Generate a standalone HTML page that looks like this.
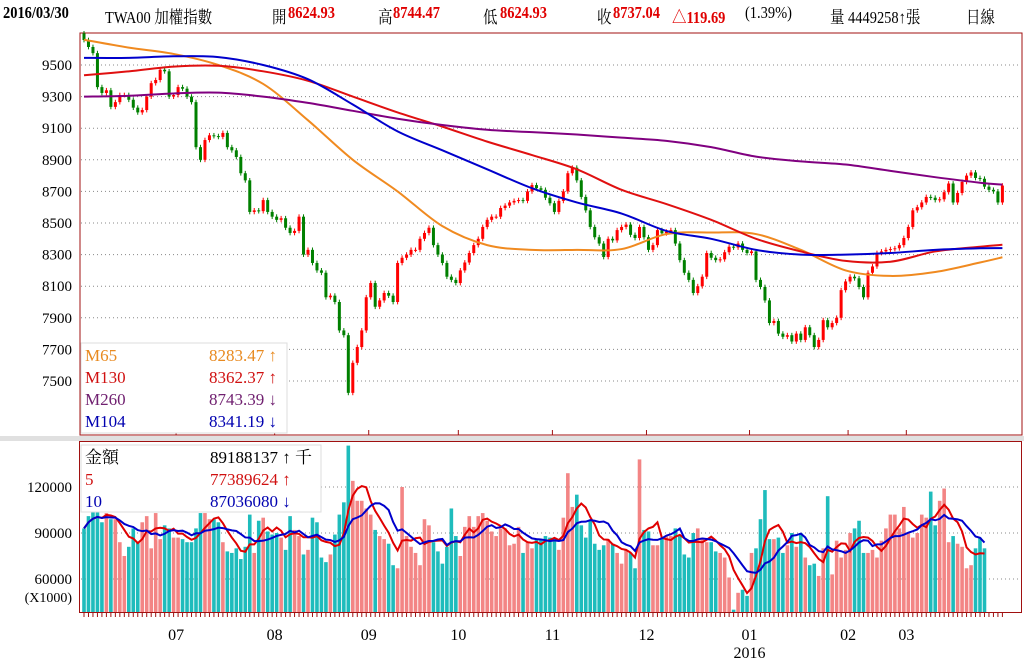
<!DOCTYPE html>
<html><head><meta charset="utf-8">
<style>
body{margin:0;background:#fff;width:1024px;height:662px;overflow:hidden;font-family:"Liberation Serif","Noto Serif CJK SC",serif;}
#hdr span{position:absolute;top:3px;font-size:17px;white-space:nowrap;transform:scaleX(0.85);transform-origin:0 0;}
.r{color:#e00000;font-weight:bold;}
</style></head>
<body>
<div id="hdr">
<span style="left:3px;font-weight:bold">2016/03/30</span>
<span style="left:105px">TWA00 加權指數</span>
<span style="left:272px">開</span>
<span class="r" style="left:288px">8624.93</span>
<span style="left:378px">高</span>
<span class="r" style="left:393px">8744.47</span>
<span style="left:483px">低</span>
<span class="r" style="left:500px">8624.93</span>
<span style="left:597px">收</span>
<span class="r" style="left:613px">8737.04</span>
<span class="r" style="left:672px">△119.69</span>
<span style="left:745px">(1.39%)</span>
<span style="left:830px">量 4449258↑張</span>
<span style="left:966px">日線</span>
</div>
<svg id="c" width="1024" height="662" style="position:absolute;left:0;top:0"></svg>
<script>
const closes=[9658,9614,9575,9360,9323,9340,9235,9265,9310,9310,9280,9230,9200,9215,9300,9385,9405,9470,9460,9300,
9310,9360,9350,9300,9265,8980,8900,9025,9055,9050,9045,9070,8980,8960,8918,8815,8770,8570,8580,8575,
8645,8570,8540,8520,8530,8470,8437,8450,8540,8300,8330,8247,8200,8185,8030,8040,8000,7820,
7790,7425,7615,7715,7820,8030,8120,7970,8010,8057,8040,8000,8247,8280,8300,8330,8330,8400,8437,8470,8360,8300,
8247,8160,8140,8120,8200,8250,8310,8360,8400,8475,8520,8540,8540,8595,8610,8630,8640,8645,8640,8700,
8740,8720,8710,8660,8625,8570,8640,8700,8815,8850,8770,8665,8580,8475,
8410,8370,8285,8400,8390,8455,8475,8490,8425,8405,8475,8410,8330,8360,8455,8435,8445,8455,8370,8265,
8185,8140,8057,8100,8160,8310,8280,8265,8270,8315,8350,8345,8370,8330,8310,8320,8140,8095,8010,7867,
7880,7800,7780,7790,7750,7800,7760,7840,7790,7715,7760,7885,7840,7867,7900,8075,
8130,8160,8150,8095,8030,8185,8225,8310,8320,8330,8335,8340,8360,8405,8475,8580,8600,8630,8665,8660,
8645,8650,8695,8750,8630,8690,8760,8800,8820,8785,8780,8730,8710,8700,8630,8737];
const firstOpen=9700;
const maIdx=[0,10,20,30,40,50,60,70,80,90,100,110,120,130,140,150,160,170,180,190,200,205];
const m65=[9660,9610,9570,9500,9380,9150,8900,8700,8480,8360,8330,8330,8335,8430,8440,8430,8330,8200,8165,8190,8250,8283];
const m130=[9435,9460,9490,9495,9460,9400,9300,9200,9110,9015,8930,8840,8710,8620,8520,8400,8320,8260,8255,8320,8350,8362];
const m260=[9300,9305,9320,9325,9300,9260,9210,9160,9120,9090,9075,9060,9040,9020,8980,8920,8890,8870,8830,8790,8755,8743];
const m104=[9545,9545,9555,9550,9500,9410,9250,9080,8960,8840,8720,8630,8560,8450,8400,8330,8300,8300,8310,8330,8340,8341];
const volumes=[93,101,104,104,97,103,99,99,84,75,81,93,84,97,101,80,103,86,95,93,
87,87,86,84,84,93,103,103,99,99,97,84,78,77,80,73,81,102,77,98,
100,91,89,90,87,79,101,92,88,76,79,100,97,74,71,76,89,102,110,147,
124,111,111,106,102,92,88,86,83,69,67,120,88,81,77,69,99,95,84,78,
70,81,106,88,75,94,101,94,101,103,98,91,88,93,93,82,83,94,77,84,
80,86,86,88,87,87,79,100,129,107,115,95,87,98,83,79,82,86,83,77,
70,79,77,67,138,92,91,82,82,87,88,88,93,88,76,74,90,93,87,84,
84,78,77,74,61,40,51,53,49,77,80,99,118,86,86,87,77,82,90,81,
90,74,69,70,62,80,114,63,85,74,79,90,93,98,77,77,79,74,85,93,
102,102,93,107,90,87,90,102,100,117,95,111,119,84,88,83,81,67,69,80,87,80];
const priceTicks=[9500,9300,9100,8900,8700,8500,8300,8100,7900,7700,7500];
const volTicks=[120000,90000,60000];
const monthLabels=["07","08","09","10","11","12","01","02","03"];
const monthIdx=[21,43,64,84,105,126,149,171,184];

const svg=document.getElementById('c');const NS='http://www.w3.org/2000/svg';
function mk(t,a,p){const e=document.createElementNS(NS,t);for(const k in a)e.setAttribute(k,a[k]);(p||svg).appendChild(e);return e;}
const X=i=>84+i*4.48;
const PY=v=>65+(9500-v)*0.158;
const VY=v=>579-(v-60)*46/30;
function smooth(pts){let d='M'+pts[0][0]+','+pts[0][1];
 for(let i=0;i<pts.length-1;i++){const p0=pts[Math.max(0,i-1)],p1=pts[i],p2=pts[i+1],p3=pts[Math.min(pts.length-1,i+2)];
  const c1=[p1[0]+(p2[0]-p0[0])/6,p1[1]+(p2[1]-p0[1])/6],c2=[p2[0]-(p3[0]-p1[0])/6,p2[1]-(p3[1]-p1[1])/6];
  d+=' C'+c1[0]+','+c1[1]+' '+c2[0]+','+c2[1]+' '+p2[0]+','+p2[1];}
 return d;}
const gap=mk('rect',{x:0,y:436,width:1024,height:5,fill:'#e0e0e0'});


const pp=mk('rect',{x:80,y:33,width:942,height:402,fill:'#fff',stroke:'#a01010','stroke-width':1});


const vp=mk('rect',{x:79.5,y:441.5,width:942,height:171,fill:'#fff',stroke:'#a01010','stroke-width':1});


const font='"Liberation Serif",serif';
priceTicks.forEach(v=>{const y=PY(v);
 const g=mk('line',{x1:81,x2:1021,y1:y,y2:y,stroke:'#888','stroke-dasharray':'1,3'});
 
 
 const t=mk('text',{x:72,y:y+5,'text-anchor':'end','font-size':15,'font-family':font});t.textContent=v;
 
 });
volTicks.forEach(v=>{const y=VY(v/1000);
 const g=mk('line',{x1:81,x2:1021,y1:y,y2:y,stroke:'#888','stroke-dasharray':'1,3'});
 
 
 const t=mk('text',{x:72,y:y+5,'text-anchor':'end','font-size':15,'font-family':font});t.textContent=v;
 
 });
const xu=mk('text',{x:72,y:602,'text-anchor':'end','font-size':14,'font-family':font});xu.textContent='(X1000)';


monthIdx.forEach((mi,k)=>{const x=X(mi)-2;
 const tk=mk('line',{x1:x,x2:x,y1:430,y2:435,stroke:'#a01010'});
 
 
 const t=mk('text',{x:x,y:640,'text-anchor':'middle','font-size':16,'font-family':font});t.textContent=monthLabels[k];
 
 
 if(monthLabels[k]==='01'){const y=mk('text',{x:x,y:658,'text-anchor':'middle','font-size':16,'font-family':font});y.textContent='2016';
 
 }});
closes.forEach((c,i)=>{const t=mk('line',{x1:X(i),x2:X(i),y1:613,y2:617,stroke:'#a01010'});
 
 });
const ups=closes.map((c,i)=>c>=(i?closes[i-1]:firstOpen));
volumes.forEach((v,i)=>{if(i>=closes.length)return;const y=VY(v);
 const b=mk('rect',{x:X(i)-1.8,y:y,width:3.6,height:612-y,fill:ups[i]?'#f38585':'#1ebcbc'});
 
 });
function maOf(arr,n){return arr.map((v,i)=>{const s=arr.slice(Math.max(0,i-n+1),i+1);return s.reduce((a,b)=>a+b,0)/s.length;});}
const vv=volumes.slice(0,closes.length);
[[maOf(vv,5),'#e00000','volume-ma5-line'],[maOf(vv,10),'#0000cc','volume-ma10-line']].forEach(([a,col,nm])=>{
 const l=mk('polyline',{points:a.map((v,i)=>X(i)+','+VY(v)).join(' '),fill:'none',stroke:col,'stroke-width':2});
 
 });
closes.forEach((c,i)=>{const o=i?closes[i-1]:firstOpen;const up=c>=o;const col=up?'#ff0000':'#008000';
 const hi=Math.max(o,c)+15,lo=Math.min(o,c)-15;
 const w=mk('line',{x1:X(i),x2:X(i),y1:PY(hi),y2:PY(lo),stroke:col,'stroke-width':1});
 
 
 const b=mk('rect',{x:X(i)-1.5,y:PY(Math.max(o,c)),width:3,height:Math.max(1,Math.abs(o-c)*0.158),fill:col});
 
 });
[[m65,'#f08a20','ma65-line'],[m130,'#e01010','ma130-line'],[m260,'#800080','ma260-line'],[m104,'#0000cc','ma104-line']].forEach(([a,col,nm])=>{
 const l=mk('path',{d:smooth(a.map((v,k)=>[X(maIdx[k]),PY(v)])),fill:'none',stroke:col,'stroke-width':2});
 
 });
function legend(x,y,w,h,vx,rows,nm){const g=mk('g',{});
 
 
 mk('rect',{x:x,y:y,width:w,height:h,fill:'#fff',stroke:'#ddd'},g);
 rows.forEach((r,k)=>{const t=mk('text',{x:x+4,y:y+18+k*22,'font-size':17,'font-family':'"Liberation Serif","Noto Serif CJK SC",serif',fill:r[2]},g);t.textContent=r[0];
 const t2=mk('text',{x:vx,y:y+18+k*22,'font-size':17,'font-family':'"Liberation Serif","Noto Serif CJK SC",serif',fill:r[2]},g);t2.textContent=r[1];});}
legend(81,343,206,90,209,[['M65','8283.47 ↑','#e88a20'],['M130','8362.37 ↑','#d01010'],['M260','8743.39 ↓','#702070'],['M104','8341.19 ↓','#0000b0']],'ma-legend');
legend(81,445,240,67,210,[['金額','89188137 ↑ 千','#000'],['5','77389624 ↑','#d01010'],['10','87036080 ↓','#0000b0']],'volume-legend');
</script>
</body></html>
